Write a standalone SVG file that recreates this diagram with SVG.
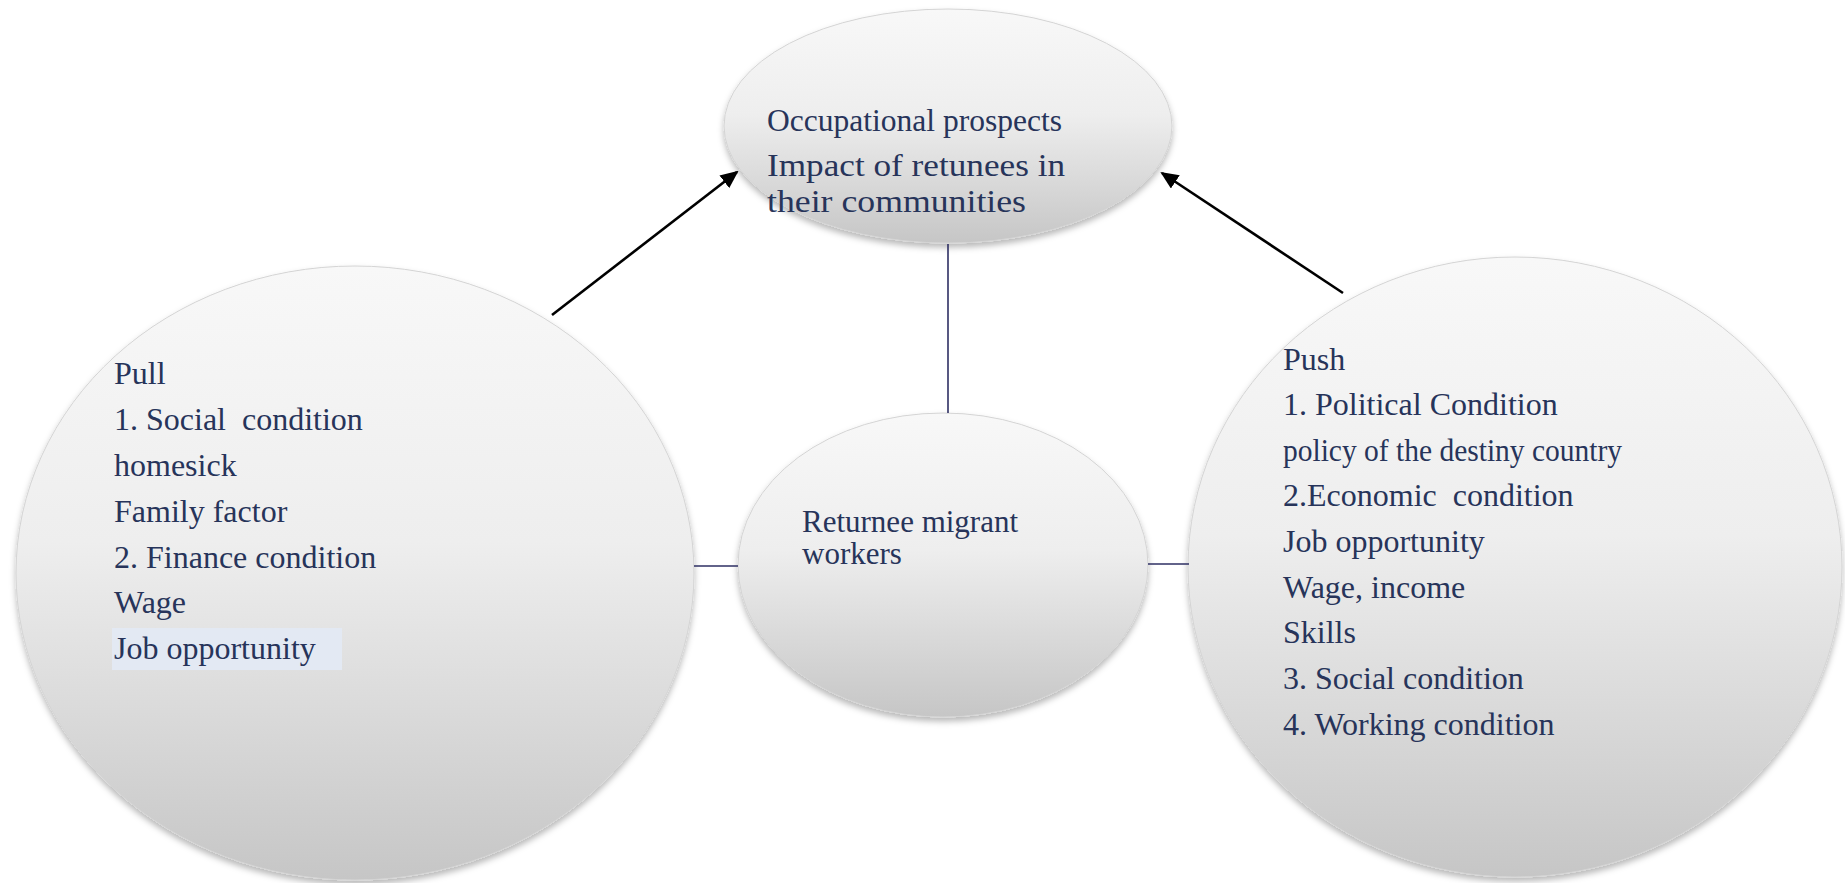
<svg xmlns="http://www.w3.org/2000/svg" width="1845" height="883" viewBox="0 0 1845 883">
<style>
.t{font-family:"Liberation Serif","Times New Roman",serif;font-size:32px;fill:#27345a;white-space:pre}
.s31{font-size:31px}
.node{stroke:#d4d4d4;stroke-width:1;filter:url(#sh)}
.ln{stroke:#2e2f63;stroke-width:1.6;fill:none}
.ar{stroke:#000;stroke-width:2.6;fill:none;marker-end:url(#ah)}
</style>
<defs>
<linearGradient id="g" x1="0" y1="0" x2="0" y2="1">
<stop offset="0" stop-color="#f8f8f8"/>
<stop offset="0.45" stop-color="#eeeeee"/>
<stop offset="1" stop-color="#c6c6c6"/>
</linearGradient>
<filter id="sh" x="-10%" y="-10%" width="120%" height="125%">
<feDropShadow dx="0" dy="4" stdDeviation="3" flood-color="#000" flood-opacity="0.28"/>
</filter>
<marker id="ah" markerUnits="userSpaceOnUse" markerWidth="18" markerHeight="16" refX="16" refY="8" orient="auto">
<path d="M0,0 L18,8 L0,16 z" fill="#000"/>
</marker>
</defs>
<rect width="1845" height="883" fill="#fff"/>
<g id="pull">
<ellipse class="node" cx="355" cy="573" rx="339" ry="307" fill="url(#g)"/>
<rect x="112" y="628" width="230" height="42" fill="#e3e9f3"/>
<text class="t" x="114" y="384">Pull</text>
<text class="t" x="114" y="430" xml:space="preserve">1. Social  condition</text>
<text class="t" x="114" y="476">homesick</text>
<text class="t" x="114" y="522">Family factor</text>
<text class="t" x="114" y="568">2. Finance condition</text>
<text class="t" x="114" y="613">Wage</text>
<text class="t" x="114" y="659">Job opportunity</text>
</g>
<g id="push">
<ellipse class="node" cx="1515" cy="567" rx="327" ry="310" fill="url(#g)"/>
<text class="t" x="1283" y="370">Push</text>
<text class="t" x="1283" y="415">1. Political Condition</text>
<text class="t" x="1283" y="461" textLength="339" lengthAdjust="spacingAndGlyphs">policy of the destiny country</text>
<text class="t" x="1283" y="506" xml:space="preserve">2.Economic  condition</text>
<text class="t" x="1283" y="552">Job opportunity</text>
<text class="t" x="1283" y="598">Wage, income</text>
<text class="t" x="1283" y="643">Skills</text>
<text class="t" x="1283" y="689">3. Social condition</text>
<text class="t" x="1283" y="735">4. Working condition</text>
</g>
<g id="outcome">
<ellipse class="node" cx="948" cy="126" rx="224" ry="117" fill="url(#g)"/>
<text class="t" x="767" y="131" textLength="295" lengthAdjust="spacingAndGlyphs">Occupational prospects</text>
<text class="t" x="767" y="176" textLength="298" lengthAdjust="spacingAndGlyphs">Impact of retunees in</text>
<text class="t" x="767" y="212" textLength="259" lengthAdjust="spacingAndGlyphs">their communities</text>
</g>
<g id="returnee">
<ellipse class="node" cx="943" cy="565" rx="205" ry="152" fill="url(#g)"/>
<text class="t s31" x="802" y="532">Returnee migrant</text>
<text class="t s31" x="802" y="564">workers</text>
</g>
<g id="connectors">
<line class="ln" x1="948" y1="244" x2="948" y2="413"/>
<line class="ln" x1="694" y1="566" x2="738" y2="566"/>
<line class="ln" x1="1148" y1="564" x2="1189" y2="564"/>
<line class="ar" x1="552" y1="315" x2="737" y2="172"/>
<line class="ar" x1="1343" y1="293" x2="1162" y2="173"/>
</g>
</svg>
